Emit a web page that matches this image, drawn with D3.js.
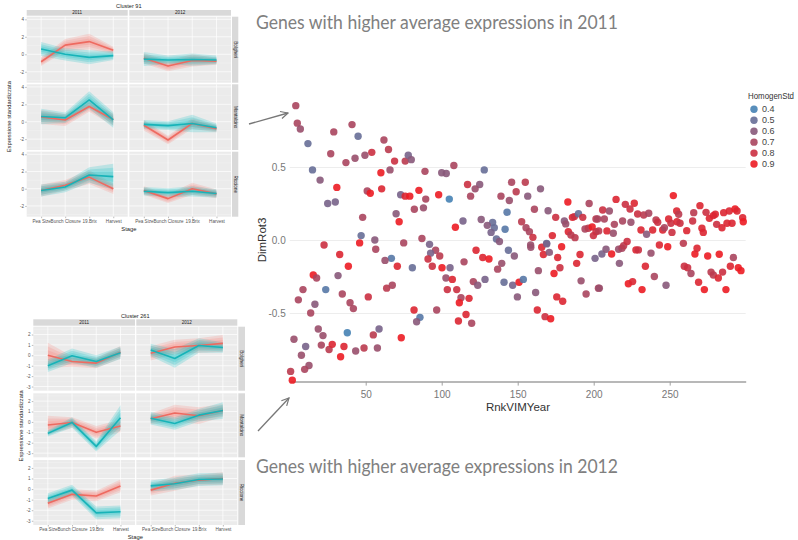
<!DOCTYPE html>
<html>
<head>
<meta charset="utf-8">
<script src="https://cdn.jsdelivr.net/npm/d3@7"></script>
<style>
  body { margin: 0; background: #fff; }
  svg { display: block; }
</style>
</head>
<body>
<svg id="fig" width="798" height="540"></svg>
<script>
// ---------- facet panels (cluster profiles) ----------
const stages  = ["Pea Size", "Bunch Closure", "19.Brix", "Harvest"];
const years   = ["2011", "2012"];
const regions = ["Bolgheri", "Montalcino", "Riccione"];

// mean standardized expression, [region][year][stage]
const c91Red = [
  [[-0.85, 1.05, 1.45, 0.45], [-0.45, -1.35, -0.7, -0.8]],
  [[0.55, 0.2, 1.75, 0.25], [-0.4, -2.1, -0.2, -0.8]],
  [[-0.2, 0.4, 1.35, 0.0], [-0.2, -1.15, 0.0, -0.6]]
];
const c91Teal = [
  [[0.6, 0.0, -0.35, -0.15], [-0.55, -0.65, -0.6, -0.65]],
  [[0.6, 0.45, 2.5, 0.2], [-0.3, -0.45, -0.2, -0.7]],
  [[-0.2, 0.2, 1.6, 1.4], [-0.3, -0.45, -0.3, -0.55]]
];
// band half-widths around the means
const c91RedBand = [
  [[0.5, 0.7, 0.9, 0.4], [0.6, 0.6, 0.7, 0.4]],
  [[0.8, 0.7, 0.6, 0.7], [0.6, 0.5, 0.6, 0.4]],
  [[0.7, 0.6, 0.8, 0.6], [0.5, 0.5, 0.7, 0.5]]
];
const c91TealBand = [
  [[0.8, 0.7, 0.8, 0.5], [0.8, 0.5, 0.7, 0.5]],
  [[0.9, 0.6, 1.0, 0.9], [0.5, 0.5, 1.0, 0.5]],
  [[0.7, 0.6, 0.9, 1.5], [0.5, 0.5, 0.6, 0.5]]
];

const c261Red = [
  [[0.0, -0.6, -0.75, 0.3], [0.2, 0.8, 0.95, 1.15]],
  [[-0.3, -0.05, -1.0, -0.4], [0.3, 0.85, 0.6, 1.1]],
  [[-1.35, -0.5, -0.65, 0.3], [-0.1, 0.55, 0.85, 1.0]]
];
const c261Teal = [
  [[-1.0, -0.05, -0.6, 0.25], [0.5, -0.3, 0.95, 0.75]],
  [[-1.1, -0.05, -2.35, 0.4], [0.35, -0.15, 0.65, 1.1]],
  [[-0.9, -0.1, -2.25, -2.15], [0.3, 0.5, 0.9, 0.95]]
];
const c261RedBand = [
  [[1.2, 0.5, 0.5, 0.6], [0.7, 0.7, 0.7, 0.8]],
  [[0.9, 0.5, 0.6, 0.6], [0.5, 0.8, 0.8, 0.6]],
  [[0.5, 0.5, 0.5, 0.6], [0.5, 0.7, 0.5, 0.6]]
];
const c261TealBand = [
  [[0.6, 0.7, 0.6, 0.6], [0.6, 0.9, 0.7, 0.5]],
  [[0.3, 0.5, 0.5, 1.2], [0.6, 0.6, 0.6, 0.8]],
  [[0.5, 0.5, 0.6, 0.6], [0.5, 0.6, 0.6, 0.6]]
];

// ---------- scatter: [RnkVIMYear, DimRot3, HomogenStd] ----------
const genePoints = [
  [4,0.92,0.7],[5,0.80,0.7],[7,0.76,0.65],[12,0.66,0.5],[15,0.48,0.5],[20,0.41,0.6],
  [29,0.74,0.7],[27,0.59,0.7],[31,0.36,0.9],[25,0.25,0.55],[30,0.26,0.55],[41,0.79,0.7],
  [45,0.71,0.5],[37,0.53,0.7],[43,0.56,0.65],[49.5,0.58,0.65],[54,0.60,0.8],[48,0.155,0.7],
  [47,0.03,0.5],[46,-0.02,0.9],[51,0.335,0.7],[53,0.32,0.9],[56,0.0,0.6],[62,0.685,0.7],
  [65,0.62,0.75],[60,0.46,0.9],[60.5,0.35,0.85],[66,0.48,0.65],[69,0.54,0.8],[70,0.18,0.6],
  [72,0.125,0.9],[73,0.31,0.55],[76,0.54,0.75],[78,0.58,0.55],[80,0.55,0.6],[76,0.30,0.85],
  [79,0.30,0.9],[85,0.34,0.9],[82,0.21,0.7],[88,0.22,0.65],[89.5,0.28,0.7],[89,0.47,0.7],
  [87,0.01,0.7],[98,0.31,0.9],[100,0.46,0.6],[75,-0.02,0.7],[92,-0.03,0.55],
  [103,0.455,0.6],[108,0.51,0.7],[128,0.48,0.5],[117,0.38,0.8],[125,0.38,0.6],[122,0.35,0.65],
  [119,0.30,0.7],[105,0.28,0.4],[146,0.395,0.7],[155,0.395,0.75],[149,0.33,0.75],[139,0.30,0.7],
  [144.5,0.27,0.65],[156.6,0.30,0.6],[165,0.35,0.6],[143,0.19,0.45],[161,0.21,0.7],[170,0.20,0.6],
  [183,0.26,0.9],[197,0.25,0.7],[114,0.13,0.55],[109,0.087,0.9],[126,0.14,0.6],[133.5,0.12,0.5],
  [130,0.10,0.6],[134.6,0.084,0.5],[132.5,0.052,0.55],[141.7,0.073,0.45],[136,0.007,0.5],
  [138,-0.01,0.6],[152.6,0.125,0.75],[155.5,0.084,0.7],[157.7,0.057,0.7],[160,0.018,0.8],
  [175,0.155,0.8],[180.7,0.13,0.6],[181.6,0.11,0.65],[186,0.155,0.85],[187.3,0.16,0.8],
  [190,0.18,0.5],[192.8,0.155,0.8],[201.5,0.144,0.75],[183.3,0.057,0.85],[185,0.034,0.75],
  [187.7,0.016,0.75],[194.3,0.075,0.7],[196.5,0.08,0.75],[199,0.09,0.95],[201.5,0.057,0.8],
  [199.8,0.03,0.8],[172.8,0.03,0.85],[169,-0.023,0.5],[158.5,-0.034,0.65],
  [214.7,0.278,0.85],[220.8,0.244,0.8],[226.7,0.251,0.85],[223.9,0.212,0.8],[205.9,0.205,0.8],
  [210.3,0.198,0.65],[202.6,0.144,0.7],[207,0.144,0.7],[203.3,0.062,0.75],[208.7,0.062,0.85],
  [213.6,0.107,0.7],[212.9,0.046,0.65],[219,0.13,0.7],[224.5,0.121,0.65],[228.9,0.178,0.8],
  [232.9,0.171,0.75],[236.2,0.183,0.7],[231.1,0.068,0.85],[234.8,0.039,0.6],[238.8,0.068,0.85],
  [241,0.137,0.75],[242.1,0.121,0.8],[245.4,0.068,0.85],[246.5,0.084,0.7],[249.3,0.144,0.85],
  [250.8,0.114,0.8],[252.4,0.304,0.9],[254.6,0.198,0.85],[255.9,0.176,0.75],[254.8,0.125,0.85],
  [256.8,0.114,0.8],[251.5,0.052,0.8],[261.2,0.064,0.85],[265.1,0.13,0.8],[265.8,0.187,0.75],
  [269.9,0.235,0.85],[271.2,0.08,0.85],[272.1,0.052,0.85],[273.9,0.189,0.8],[276.1,0.148,0.85],
  [278.7,0.167,0.85],[280,0.176,0.85],[280.9,0.107,0.8],[284.4,0.084,0.85],[285.5,0.187,0.85],
  [287.7,0.114,0.85],[289.2,0.198,0.85],[291,0.114,0.85],[293,0.212,0.9],[294.3,0.198,0.85],
  [298,0.153,0.85],[298.4,0.125,0.9],
  [22.6,-0.034,0.8],[56.6,-0.064,0.7],[96,-0.07,0.7],[92.7,-0.09,0.55],[98.7,-0.11,0.75],
  [91,-0.13,0.8],[93.8,-0.18,0.8],[100.2,-0.19,0.9],[66.9,-0.126,0.45],[62.7,-0.14,0.65],
  [70.8,-0.18,0.85],[80.7,-0.19,0.5],[32.9,-0.10,0.85],[38.6,-0.18,0.9],[15.5,-0.24,0.9],
  [17.7,-0.26,0.7],[31.8,-0.244,0.6],[23.7,-0.34,0.45],[34.6,-0.37,0.7],[51.7,-0.39,0.8],
  [63.8,-0.33,0.75],[67.5,-0.31,0.7],[8.75,-0.34,0.7],[5.7,-0.41,0.7],[16.6,-0.44,0.6],
  [13.8,-0.50,0.7],[39.7,-0.43,0.7],[41.9,-0.47,0.7],[81.8,-0.48,0.85],[85.7,-0.53,0.45],
  [83.5,-0.56,0.6],[96.7,-0.48,0.7],[2.8,-0.68,0.65],[18.8,-0.61,0.65],[21.9,-0.655,0.65],
  [20.8,-0.72,0.7],[25.9,-0.75,0.75],[28,-0.715,0.85],[35.7,-0.73,0.85],[33.5,-0.80,0.9],
  [37.9,-0.635,0.4],[43.4,-0.76,0.65],[48.9,-0.74,0.75],[55,-0.65,0.75],[58.8,-0.61,0.55],
  [57.7,-0.74,0.65],[73.4,-0.67,0.9],[10.5,-0.73,0.55],[7.7,-0.79,0.65],[12.7,-0.86,0.65],
  [9.85,-0.886,0.7],[0.6,-0.90,0.75],[1.7,-0.96,0.9],
  [105.5,-0.19,0.55],[102.8,-0.26,0.65],[107,-0.27,0.85],[103.7,-0.34,0.8],[109.9,-0.34,0.8],
  [114.7,-0.15,0.7],[122.6,-0.07,0.85],[127,-0.12,0.85],[131.1,-0.13,0.9],[143.9,-0.07,0.5],
  [147.8,-0.11,0.6],[139.5,-0.16,0.65],[136.8,-0.2,0.7],[120.8,-0.285,0.7],[123.7,-0.31,0.6],
  [128.5,-0.27,0.55],[141,-0.29,0.5],[146.7,-0.31,0.55],[150.9,-0.29,0.95],[153.7,-0.27,0.45],
  [149.8,-0.39,0.6],[112.7,-0.395,0.7],[118,-0.40,0.85],[111.6,-0.43,0.9],[116,-0.51,0.85],
  [111,-0.555,0.85],[119.7,-0.57,0.7],[158.6,-0.05,0.65],[165.8,-0.05,0.85],[166.9,-0.10,0.85],
  [169.1,-0.027,0.55],[170.8,-0.085,0.6],[178.9,-0.046,0.9],[176.3,-0.12,0.85],[177.8,-0.19,0.8],
  [173.9,-0.23,0.9],[163.6,-0.21,0.65],[161.8,-0.36,0.6],[175.7,-0.39,0.85],[179.6,-0.42,0.85],
  [162.9,-0.48,0.85],[168,-0.525,0.8],[171.7,-0.54,0.9],[188.8,-0.16,0.85],[191,-0.10,0.85],
  [191.7,-0.28,0.65],[195,-0.37,0.7],[200.9,-0.126,0.55],[203.1,-0.33,0.7],
  [205.4,-0.096,0.55],[208.1,-0.064,0.6],[211.8,-0.096,0.95],[216.9,-0.16,0.6],[216.4,-0.064,0.65],
  [218.6,-0.057,0.7],[219.7,-0.04,0.75],[222,-0.01,0.8],[227.8,-0.068,0.85],[229.4,-0.068,0.8],
  [237.7,-0.09,0.65],[243.2,-0.034,0.85],[248.7,-0.046,0.9],[259,-0.023,0.75],[234,-0.18,0.85],
  [239.9,-0.25,0.7],[222.8,-0.30,0.9],[225.6,-0.285,0.85],[231.8,-0.34,0.9],[247.6,-0.31,0.6],
  [203.7,-0.33,0.65],[259.6,-0.18,0.8],[261.8,-0.19,0.8],[264,-0.23,0.7],[266.6,-0.096,0.9],
  [268,-0.057,0.85],[275,-0.11,0.9],[269,-0.29,0.85],[272.8,-0.34,0.9],[277.2,-0.22,0.75],
  [278.7,-0.24,0.75],[282.6,-0.098,0.9],[284.8,-0.22,0.8],[282,-0.26,0.85],[287,-0.34,0.9],
  [289.9,-0.18,0.85],[291.9,-0.12,0.7],[295.1,-0.19,0.9],[296.9,-0.21,0.9]
];
const dimTicks   = [-0.5, 0, 0.5];
const rankTicks  = [50, 100, 150, 200, 250];
const legendVals = [0.4, 0.5, 0.6, 0.7, 0.8, 0.9];

const headings = ["Genes with higher average expressions in 2011",
                  "Genes with higher average expressions in 2012"];

const svg = d3.select("#fig");
const RED = "#F8766D", TEAL = "#00BFC4";

// ---------- faceted expression profiles ----------
function drawFacet(o) {
  const g = svg.append("g").attr("font-family", "Liberation Sans, Arial, sans-serif");
  const fs = 4.6;

  g.append("text").attr("x", (o.cols[0][0] + o.cols[1][1]) / 2).attr("y", o.titleY)
    .attr("text-anchor", "middle").attr("font-size", 5.6).attr("fill", "#222").text(o.title);

  o.rows.forEach((rr, ri) => {
    o.cols.forEach((cc, ci) => {
      const x = d3.scalePoint().domain(stages).range(cc).padding(0.6);
      const y = d3.scaleLinear().domain(o.yDomain).range([rr[1], rr[0]]);
      const p = g.append("g");
      p.append("rect").attr("x", cc[0]).attr("y", rr[0])
        .attr("width", cc[1] - cc[0]).attr("height", rr[1] - rr[0]).attr("fill", "#EBEBEB");
      // minor + major grid
      const majT = o.yTicks;
      const step = majT[1] - majT[0];
      const minT = majT.map(t => t - step / 2).concat([majT[majT.length - 1] + step / 2])
        .filter(v => v > o.yDomain[0] && v < o.yDomain[1]);
      p.selectAll(".mn").data(minT).join("line")
        .attr("x1", cc[0]).attr("x2", cc[1]).attr("y1", d => y(d)).attr("y2", d => y(d))
        .attr("stroke", "#F5F5F5").attr("stroke-width", 0.35);
      p.selectAll(".mj").data(majT).join("line")
        .attr("x1", cc[0]).attr("x2", cc[1]).attr("y1", d => y(d)).attr("y2", d => y(d))
        .attr("stroke", "#fff").attr("stroke-width", 0.7);
      p.selectAll(".vx").data(stages).join("line")
        .attr("x1", d => x(d)).attr("x2", d => x(d)).attr("y1", rr[0]).attr("y2", rr[1])
        .attr("stroke", "#fff").attr("stroke-width", 0.7);

      const series = [
        { m: o.red[ri][ci],  b: o.redBand[ri][ci],  c: RED,  lc: "#EE6A60" },
        { m: o.teal[ri][ci], b: o.tealBand[ri][ci], c: TEAL, lc: "#17B3B8" }
      ];
      series.forEach(s => {
        [1, 0.7, 0.4].forEach(k => {
          const area = d3.area()
            .x((d, i) => x(stages[i]))
            .y0((d, i) => y(d - s.b[i] * k))
            .y1((d, i) => y(d + s.b[i] * k));
          p.append("path").attr("d", area(s.m)).attr("fill", s.c).attr("fill-opacity", 0.2);
        });
      });
      series.forEach(s => {
        const line = d3.line().x((d, i) => x(stages[i])).y(d => y(d));
        p.append("path").attr("d", line(s.m)).attr("fill", "none")
          .attr("stroke", s.lc).attr("stroke-width", 1.6).attr("stroke-linejoin", "round");
      });

      // left axis on the first column
      if (ci === 0) {
        const ax = g.append("g").attr("transform", `translate(${cc[0]},0)`)
          .call(d3.axisLeft(y).tickValues(o.yTicks).tickSize(1.5).tickPadding(1.2)
            .tickFormat(d => d < 0 ? "-" + Math.abs(d) : String(d)));
        ax.select(".domain").remove();
        ax.selectAll("line").attr("stroke", "#555").attr("stroke-width", 0.4);
        ax.selectAll("text").attr("font-size", fs).attr("fill", "#555").attr("font-family", null);
      }
      // bottom axis on the last row
      if (ri === o.rows.length - 1) {
        const bx = g.append("g").attr("transform", `translate(0,${rr[1]})`)
          .call(d3.axisBottom(x).tickSize(1.5).tickPadding(1.5));
        bx.select(".domain").remove();
        bx.selectAll("line").attr("stroke", "#555").attr("stroke-width", 0.4);
        bx.selectAll("text").attr("font-size", fs).attr("fill", "#555").attr("font-family", null);
      }
    });
    // right strip
    g.append("rect").attr("x", o.stripRight[0]).attr("y", rr[0])
      .attr("width", o.stripRight[1] - o.stripRight[0]).attr("height", rr[1] - rr[0]).attr("fill", "#D9D9D9");
    const sx = (o.stripRight[0] + o.stripRight[1]) / 2, sy = (rr[0] + rr[1]) / 2;
    g.append("text").attr("transform", `translate(${sx},${sy}) rotate(90)`)
      .attr("text-anchor", "middle").attr("dy", "0.35em").attr("font-size", fs).attr("fill", "#222")
      .text(regions[ri]);
  });
  // top strips
  o.cols.forEach((cc, ci) => {
    g.append("rect").attr("x", cc[0]).attr("y", o.stripTop[0])
      .attr("width", cc[1] - cc[0]).attr("height", o.stripTop[1] - o.stripTop[0]).attr("fill", "#D9D9D9");
    g.append("text").attr("x", (cc[0] + cc[1]) / 2).attr("y", (o.stripTop[0] + o.stripTop[1]) / 2)
      .attr("dy", "0.35em").attr("text-anchor", "middle").attr("font-size", fs).attr("fill", "#222")
      .text(years[ci]);
  });
  g.append("text").attr("x", (o.cols[0][0] + o.cols[1][1]) / 2).attr("y", o.stageY)
    .attr("text-anchor", "middle").attr("font-size", 5.8).attr("fill", "#222").text("Stage");
  const ymid = (o.rows[0][0] + o.rows[o.rows.length - 1][1]) / 2;
  g.append("text").attr("transform", `translate(${o.yTitleX},${ymid}) rotate(-90)`)
    .attr("text-anchor", "middle").attr("font-size", 5.8).attr("fill", "#222")
    .text("Espressione standardizzata");
}

drawFacet({
  title: "Cluster  91", titleY: 8,
  cols: [[26.7, 127.7], [129.3, 231]],
  rows: [[16.7, 82.7], [84.3, 150], [151.7, 216.7]],
  stripTop: [10, 15.7], stripRight: [232, 238.3],
  yDomain: [-3.25, 4.3], yTicks: [-2, 0, 2, 4],
  red: c91Red, teal: c91Teal, redBand: c91RedBand, tealBand: c91TealBand,
  stageY: 231, yTitleX: 11
});

drawFacet({
  title: "Cluster  261", titleY: 318,
  cols: [[33.3, 135], [136.3, 237.3]],
  rows: [[326.7, 390.7], [393.3, 457.3], [460, 525]],
  stripTop: [319.3, 325.7], stripRight: [238.3, 245],
  yDomain: [-3.4, 2.75], yTicks: [-3, -2, -1, 0, 1, 2],
  red: c261Red, teal: c261Teal, redBand: c261RedBand, tealBand: c261TealBand,
  stageY: 539, yTitleX: 23
});

// ---------- headings ----------
const hy = [29, 473];
headings.forEach((t, i) => {
  svg.append("text").attr("x", 256).attr("y", hy[i])
    .attr("font-family", "Lato, 'Open Sans', sans-serif").attr("font-size", 19.5)
    .attr("fill", "#808080").attr("textLength", 362).attr("lengthAdjust", "spacingAndGlyphs")
    .text(t);
});

// ---------- arrows ----------
const defs = svg.append("defs");
defs.append("marker").attr("id", "ah").attr("viewBox", "0 0 10 10")
  .attr("refX", 9).attr("refY", 5).attr("markerWidth", 7).attr("markerHeight", 7)
  .attr("orient", "auto-start-reverse")
  .append("path").attr("d", "M1,1 L9,5 L1,9").attr("fill", "none")
  .attr("stroke", "#777").attr("stroke-width", 1.3);
[[249, 124, 288, 113], [258, 431, 289, 398]].forEach(a => {
  svg.append("line").attr("x1", a[0]).attr("y1", a[1]).attr("x2", a[2]).attr("y2", a[3])
    .attr("stroke", "#777").attr("stroke-width", 1.3).attr("marker-end", "url(#ah)");
});

// ---------- scatter ----------
const sc = svg.append("g").attr("font-family", "Liberation Sans, Arial, sans-serif");
const xS = d3.scaleLinear().domain([0, 300]).range([289.7, 745.7]);
const yS = d3.scaleLinear().domain([-0.97, 0.96]).range([381.6, 99.8]);
const col = d3.scaleLinear().domain([0.4, 0.9]).range(["#4682B4", "#EC1C24"]).clamp(true);

const grid = sc.append("g").attr("transform", `translate(${xS.range()[0]},0)`)
  .call(d3.axisLeft(yS).tickValues(dimTicks).tickSize(-(xS.range()[1] - xS.range()[0])).tickFormat(""));
grid.select(".domain").remove();
grid.selectAll("line").attr("stroke", "#EDEDED").attr("stroke-width", 1);

const yAx = sc.append("g").attr("transform", `translate(${xS.range()[0] - 4},0)`)
  .call(d3.axisLeft(yS).tickValues(dimTicks).tickSize(0).tickPadding(0)
    .tickFormat(d => d.toFixed(1)));
yAx.select(".domain").remove();
yAx.selectAll("text").attr("font-size", 10).attr("fill", "#777").attr("font-family", null);

const xAx = sc.append("g").attr("transform", `translate(0,${yS.range()[0]})`)
  .call(d3.axisBottom(xS).tickValues(rankTicks).tickSize(4).tickPadding(5).tickSizeOuter(0));
xAx.select(".domain").attr("stroke", "#A0A0A0").attr("stroke-width", 1.5);
xAx.selectAll("line").attr("stroke", "#A0A0A0");
xAx.selectAll("text").attr("font-size", 10).attr("fill", "#777").attr("font-family", null);

sc.append("text").attr("x", 518).attr("y", 411).attr("text-anchor", "middle")
  .attr("font-size", 11.5).attr("fill", "#333").text("RnkVIMYear");
sc.append("text").attr("transform", "translate(266,240) rotate(-90)").attr("text-anchor", "middle")
  .attr("font-size", 11.5).attr("fill", "#333").text("DimRot3");

sc.append("g").selectAll("circle").data(genePoints).join("circle")
  .attr("cx", d => xS(d[0])).attr("cy", d => yS(d[1])).attr("r", 3.7)
  .attr("fill", d => col(d[2])).attr("fill-opacity", 0.9);

// legend
const lg = sc.append("g");
lg.append("text").attr("x", 748).attr("y", 99).attr("font-size", 8.6).attr("fill", "#333")
  .attr("textLength", 46).attr("lengthAdjust", "spacingAndGlyphs")
  .text("HomogenStd");
const items = lg.selectAll("g.it").data(legendVals).join("g")
  .attr("transform", (d, i) => `translate(754,${109.3 + i * 10.95})`);
items.append("circle").attr("r", 3.7).attr("fill", d => col(d)).attr("fill-opacity", 0.9);
items.append("text").attr("x", 8).attr("dy", "0.35em").attr("font-size", 9).attr("fill", "#444")
  .text(d => d.toFixed(1));
</script>
</body>
</html>
